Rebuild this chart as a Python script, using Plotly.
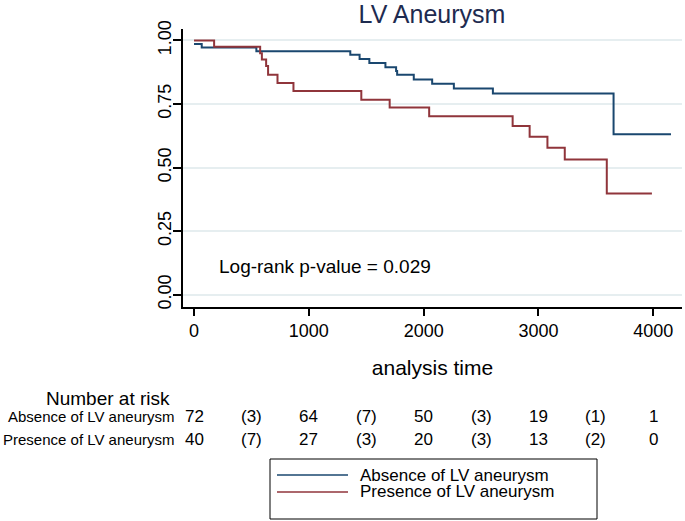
import plotly.graph_objects as go

# ---- data ----
absence_time = [0, 67, 543, 1361, 1442, 1527, 1667, 1760, 1769, 1914, 2074, 2263, 2603, 3654, 4154]
absence_surv = [0.986, 0.972, 0.958, 0.944, 0.927, 0.911, 0.895, 0.880, 0.865, 0.846, 0.830, 0.811, 0.791, 0.631, 0.631]

presence_time = [0, 175, 576, 591, 628, 645, 727, 866, 1457, 1704, 2048, 2775, 2923, 3078, 3229, 3595, 3988]
presence_surv = [1.0, 0.975, 0.95, 0.925, 0.90, 0.865, 0.833, 0.801, 0.767, 0.736, 0.702, 0.664, 0.621, 0.578, 0.532, 0.398, 0.398]

x_ticks = [0, 1000, 2000, 3000, 4000]
y_ticks = [0.0, 0.25, 0.5, 0.75, 1.0]

risk_times = [0, 500, 1000, 1500, 2000, 2500, 3000, 3500, 4000]
absence_risk = ["72", "(3)", "64", "(7)", "50", "(3)", "19", "(1)", "1"]
presence_risk = ["40", "(7)", "27", "(3)", "20", "(3)", "13", "(2)", "0"]

series_names = ["Absence of LV aneurysm", "Presence of LV aneurysm"]
p_value_text = "Log-rank p-value = 0.029"

BLUE = "#1a476f"
RED = "#90353b"
FONT = "Liberation Sans, Arial, Helvetica, sans-serif"

fig = go.Figure()
fig.add_trace(go.Scatter(x=absence_time, y=absence_surv, mode="lines", line_shape="hv",
                         line=dict(color=BLUE, width=2), name=series_names[0]))
fig.add_trace(go.Scatter(x=presence_time, y=presence_surv, mode="lines", line_shape="hv",
                         line=dict(color=RED, width=2), name=series_names[1]))

ML, MR, MT, MB = 183, 3, 29, 214
W, H = 685, 521
PW = W - ML - MR
PH = H - MT - MB


def px2paper_x(px):
    return (px - ML) / PW


def px2paper_y(py):
    return (H - MB - py) / PH


annotations = []
annotations.append(dict(x=200, y=0.11, xref="x", yref="y", text=p_value_text, showarrow=False,
                        xanchor="left", yanchor="middle", font=dict(size=19, color="black", family=FONT)))

# number at risk table
annotations.append(dict(x=px2paper_x(172), y=px2paper_y(398), xref="paper", yref="paper",
                        text="Number at risk", showarrow=False, xanchor="right", yanchor="middle",
                        font=dict(size=19, color="black", family=FONT)))
for name, py in zip(series_names, [416, 439]):
    annotations.append(dict(x=px2paper_x(176), y=px2paper_y(py), xref="paper", yref="paper",
                            text=name, showarrow=False, xanchor="right", yanchor="middle",
                            font=dict(size=15, color="black", family=FONT)))
for vals, py in zip([absence_risk, presence_risk], [416, 439]):
    for t, v in zip(risk_times, vals):
        annotations.append(dict(x=t, y=px2paper_y(py), xref="x", yref="paper", text=v,
                                showarrow=False, xanchor="center", yanchor="middle",
                                font=dict(size=17, color="black", family=FONT)))

# custom legend
shapes = [dict(type="rect", xref="paper", yref="paper",
               x0=px2paper_x(270), x1=px2paper_x(597), y0=px2paper_y(459), y1=px2paper_y(519),
               line=dict(color="black", width=1), fillcolor="white")]
for color, name, py in zip([BLUE, RED], series_names, [475, 492]):
    shapes.append(dict(type="line", xref="paper", yref="paper",
                       x0=px2paper_x(277), x1=px2paper_x(348), y0=px2paper_y(py), y1=px2paper_y(py),
                       line=dict(color=color, width=1.5)))
    annotations.append(dict(x=px2paper_x(358), y=px2paper_y(py), xref="paper", yref="paper",
                            text=name, showarrow=False, xanchor="left", yanchor="middle",
                            font=dict(size=17, color="black", family=FONT)))

fig.update_layout(
    width=W, height=H,
    margin=dict(l=ML, r=MR, t=MT, b=MB, pad=0),
    paper_bgcolor="white", plot_bgcolor="white",
    showlegend=False,
    font=dict(family=FONT, color="black"),
    title=dict(text="LV Aneurysm", x=432 / W, xanchor="center",
               y=1 - 14 / H, yanchor="middle", font=dict(size=25, color="#1e2b50", family=FONT)),
    xaxis=dict(range=[-96, 4250], tickvals=x_ticks, showgrid=False, zeroline=False,
               showline=True, linecolor="black", linewidth=1.5,
               ticks="outside", ticklen=7, tickwidth=1.5, tickcolor="black",
               tickfont=dict(size=18, family=FONT),
               title=dict(text="analysis time", font=dict(size=21, family=FONT), standoff=20)),
    yaxis=dict(range=[-0.048, 1.045], tickvals=y_ticks, tickformat=".2f", tickangle=-90,
               showgrid=True, gridcolor="#e6eef0", gridwidth=1.5, zeroline=False,
               showline=True, linecolor="black", linewidth=1.5,
               ticks="outside", ticklen=8, tickwidth=1.5, tickcolor="black",
               ticklabelstandoff=-5,
               tickfont=dict(size=18, family=FONT)),
    annotations=annotations,
    shapes=shapes,
)

fig.write_html("out.html", config={"displayModeBar": False},
               post_script="document.body.style.margin='0';document.body.style.overflow='hidden';")
